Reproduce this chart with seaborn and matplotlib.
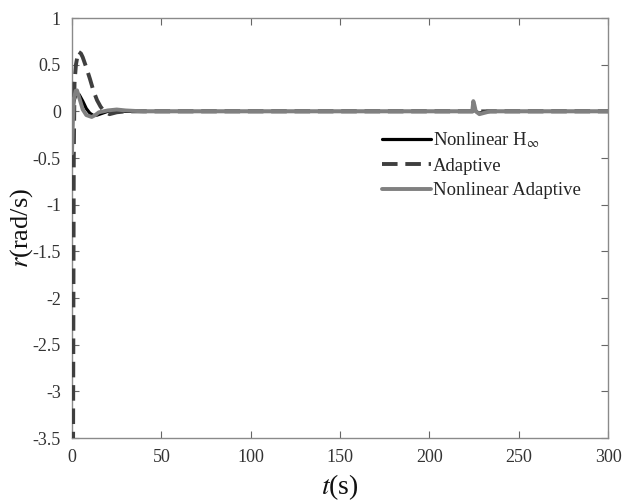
import matplotlib
matplotlib.use("Agg")
import matplotlib.pyplot as plt
import seaborn as sns
import pandas as pd

# ---- data ----
t_hinf = [0, 1, 2, 3, 4, 6, 8, 10, 12, 14, 17, 20, 25, 30, 224, 225, 226, 228, 232, 300]
r_hinf = [0.0, 0.1, 0.17, 0.19, 0.18, 0.11, 0.03, -0.02, -0.045, -0.04, -0.02, 0.0, 0.01, 0.0,
          0.0, 0.02, 0.0, -0.02, 0.0, 0.0]

t_adapt = [0.6, 0.8, 1.0, 1.4, 2.2, 3.5, 5, 6, 8, 10, 12, 14, 16, 18, 21, 25, 30, 300]
r_adapt = [-3.6, -2.0, -0.5, 0.3, 0.5, 0.64, 0.62, 0.58, 0.47, 0.35, 0.22, 0.12, 0.05, 0.0,
           -0.03, -0.01, 0.0, 0.0]

t_nladapt = [0, 0.5, 1, 2, 2.8, 4, 6, 8, 11, 13, 15, 20, 25, 30, 40, 224, 224.6, 225.2, 226, 228,
             230, 234, 300]
r_nladapt = [-0.45, -0.1, 0.12, 0.22, 0.225, 0.15, 0.02, -0.04, -0.06, -0.04, -0.01, 0.01, 0.02,
             0.01, 0.0, 0.0, 0.11, 0.07, 0.0, -0.03, -0.02, 0.0, 0.0]

labels = [r"Nonlinear H$_\infty$", "Adaptive", "Nonlinear Adaptive"]
x_ticks = [0, 50, 100, 150, 200, 250, 300]
y_ticks = [1, 0.5, 0, -0.5, -1, -1.5, -2, -2.5, -3, -3.5]

sns.set_theme(style="ticks", rc={"xtick.direction": "in", "ytick.direction": "in",
                                 "xtick.top": True, "ytick.right": True})
plt.rcParams["font.family"] = ["Liberation Serif", "DejaVu Serif"]
plt.rcParams["mathtext.fontset"] = "stix"

fig = plt.figure(figsize=(6.24, 5.01), dpi=100)
ax = fig.add_axes([0.1154, 0.1257, 0.8590, 0.8383])

df1 = pd.DataFrame({"t": t_hinf, "r": r_hinf})
df2 = pd.DataFrame({"t": t_adapt, "r": r_adapt})
df3 = pd.DataFrame({"t": t_nladapt, "r": r_nladapt})

sns.lineplot(data=df1, x="t", y="r", ax=ax, color="black", linewidth=2.3,
             label=labels[0], sort=False, zorder=2)
sns.lineplot(data=df2, x="t", y="r", ax=ax, color="#3f3f3f", linewidth=2.8,
             label=labels[1], sort=False, zorder=3)
ax.lines[-1].set_dashes([4, 2])
sns.lineplot(data=df3, x="t", y="r", ax=ax, color="#808080", linewidth=2.8,
             label=labels[2], sort=False, zorder=4)

ax.set_xlim(0, 300)
ax.set_ylim(-3.5, 1)
ax.set_xticks(x_ticks)
ax.set_yticks(y_ticks)
ax.set_xticklabels([str(v) for v in x_ticks])
ax.set_yticklabels([f"{v:g}" for v in y_ticks])
ax.tick_params(direction="in", length=5, width=0.8, top=True, right=True,
               bottom=True, left=True, labelsize=13, color="#666666",
               labelcolor="#333333", pad=8)
for s in ax.spines.values():
    s.set_visible(True)
    s.set_color("#8a8a8a")
    s.set_linewidth(1.0)

ax.set_xlabel(r"$t$(s)", fontsize=20, color="#111111", va="center")
ax.set_ylabel(r"$r$(rad/s)", fontsize=19, color="#111111", va="center")
ax.xaxis.set_label_coords(0.5, -0.116)
ax.yaxis.set_label_coords(-0.095, 0.5)

leg = ax.legend(loc="upper left", bbox_to_anchor=(0.565, 0.75), frameon=False,
                fontsize=13.5, handlelength=2.6, handletextpad=0.1, labelspacing=0.4,
                borderaxespad=0)

fig.savefig("out.png", dpi=100)
